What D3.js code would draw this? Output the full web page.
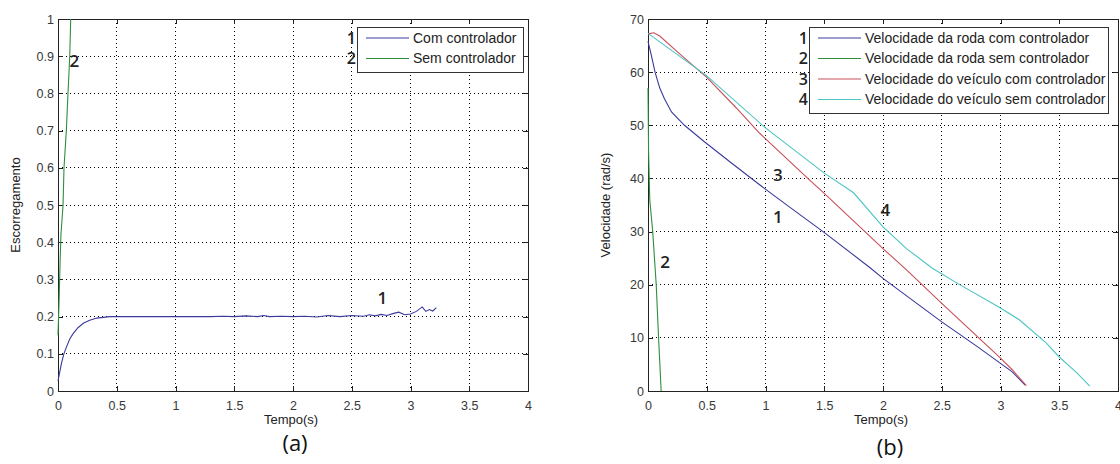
<!DOCTYPE html>
<meta charset="utf-8">
<style>
body { margin: 0; background: #fff; }
svg { font-family: "Liberation Sans", Arial, sans-serif; }
.axis path, .axis line { fill: none; stroke: #222; shape-rendering: crispEdges; }
.axis text { fill: #383838; font-size: 12.5px; }
.grid line { stroke: #000; stroke-dasharray: 1,3; shape-rendering: crispEdges; }
.num { font-family: "Open Sans", "DejaVu Sans", sans-serif; font-weight: 600; font-size: 17px; fill: #222; }
.leg .num { font-size: 16px; }
.leg text { font-size: 14px; fill: #222; }
.cap { font-family: "Open Sans", "DejaVu Sans", sans-serif; font-size: 22px; fill: #111; }
</style>
<body>
<script src="https://cdn.jsdelivr.net/npm/d3@7/dist/d3.min.js"></script>
<script>

// tick values
var xTicks = [0, 0.5, 1, 1.5, 2, 2.5, 3, 3.5, 4];
var yTicksA = [0, 0.1, 0.2, 0.3, 0.4, 0.5, 0.6, 0.7, 0.8, 0.9, 1];
var yTicksB = [0, 10, 20, 30, 40, 50, 60, 70];

// (a) escorregamento
var slipCom = [[0,0.027],[0.03,0.075],[0.05,0.1],[0.074,0.12],[0.1,0.14],[0.13,0.155],[0.17,0.17],[0.215,0.182],[0.27,0.19],[0.33,0.196],[0.44,0.2],
  [0.6,0.2],[1.0,0.2],[1.3,0.2],[1.4,0.201],[1.5,0.2],[1.6,0.202],[1.7,0.2],[1.75,0.203],[1.8,0.2],[1.9,0.201],[2.0,0.2],[2.1,0.201],
  [2.2,0.199],[2.3,0.203],[2.4,0.2],[2.5,0.203],[2.6,0.201],[2.65,0.205],[2.7,0.202],[2.75,0.206],[2.8,0.203],[2.85,0.208],[2.9,0.212],
  [2.95,0.205],[3.0,0.207],[3.05,0.214],[3.1,0.226],[3.13,0.214],[3.16,0.219],[3.19,0.215],[3.22,0.224]];
var slipSem = [[0,0.15],[0.01,0.25],[0.018,0.35],[0.025,0.42],[0.043,0.5],[0.051,0.6],[0.071,0.7],[0.085,0.8],[0.1,0.9],[0.108,1.0]];

// (b) velocidades
var rodaCom = [[0,65.8],[0.03,63],[0.06,60],[0.1,57],[0.14,55],[0.2,52.5],[0.31,50],[0.48,46.9],[0.71,42.9],[0.95,38.8],[1.2,34.7],
  [1.49,30.0],[1.89,23.2],[2.0,21.2],[2.5,13.0],[2.8,8.4],[3.0,5.2],[3.1,3.6],[3.21,1.1]];
var rodaSem = [[0,57],[0.005,45],[0.015,36],[0.04,30],[0.07,20],[0.09,10],[0.112,0]];
var veicCom = [[0,67.2],[0.05,67.4],[0.1,66.8],[0.25,63.8],[0.5,59.0],[0.75,53.3],[0.95,48.5],[1.36,40],[1.5,37.2],[2.0,26.8],
  [2.2,22.8],[2.5,16.5],[3.0,6.2],[3.1,4.0],[3.22,1.0]];
var veicSem = [[0,67.3],[0.25,63.3],[0.5,59.3],[1.0,49.5],[1.5,41],[1.75,37.3],[2.0,30.9],[2.2,26.8],[2.42,23.1],[2.63,20.3],
  [3.0,15.6],[3.16,13.4],[3.39,9.0],[3.5,6.4],[3.65,3.4],[3.76,0.9]];

var legendA = ["Com controlador", "Sem controlador"];
var legendB = ["Velocidade da roda com controlador", "Velocidade da roda sem controlador",
  "Velocidade do veículo com controlador", "Velocidade do veículo sem controlador"];
var labelsA = [["2",0.14,0.887],["1",2.76,0.249]];
var labelsB = [["1",1.105,32.7],["2",0.145,24.3],["3",1.105,40.6],["4",2.02,34]];

var blue = "#3a3a9c", green = "#2f8f3f", red = "#c8505a", cyan = "#4cc4c4";

var svg = d3.select("body").append("svg").attr("width", 1120).attr("height", 464);

function panel(left, yTicks, yMax, yLabel, caption, series, colors, labels, legend, leg) {
  var x = d3.scaleLinear().domain([0, 4]).range([left, left + 470]);
  var y = d3.scaleLinear().domain([0, yMax]).range([391, 19]);
  var g = svg.append("g");

  // grid
  g.append("g").attr("class", "grid").selectAll("line").data(xTicks.slice(1, -1)).enter().append("line")
    .attr("x1", d => x(d)).attr("x2", d => x(d)).attr("y1", 19).attr("y2", 391);
  g.append("g").attr("class", "grid").selectAll("line").data(yTicks.slice(1, -1)).enter().append("line")
    .attr("y1", d => y(d)).attr("y2", d => y(d)).attr("x1", left).attr("x2", left + 470);

  // axes, ticks pointing inward on all sides
  g.append("g").attr("class", "axis").attr("transform", "translate(0,391)")
    .call(d3.axisBottom(x).tickValues(xTicks).tickSizeInner(-5).tickSizeOuter(0).tickPadding(10).tickFormat(d3.format("")));
  g.append("g").attr("class", "axis").attr("transform", "translate(0,19)")
    .call(d3.axisTop(x).tickValues(xTicks).tickSizeInner(-5).tickSizeOuter(0).tickFormat(""));
  g.append("g").attr("class", "axis").attr("transform", "translate(" + left + ",0)")
    .call(d3.axisLeft(y).tickValues(yTicks).tickSizeInner(-5).tickSizeOuter(0).tickPadding(4).tickFormat(d3.format("")));
  g.append("g").attr("class", "axis").attr("transform", "translate(" + (left + 470) + ",0)")
    .call(d3.axisRight(y).tickValues(yTicks).tickSizeInner(-5).tickSizeOuter(0).tickFormat(""));
  g.append("rect").attr("x", left).attr("y", 19).attr("width", 470).attr("height", 372)
    .attr("fill", "none").attr("stroke", "#222").attr("shape-rendering", "crispEdges");

  // lines
  var line = d3.line().x(d => x(d[0])).y(d => y(d[1]));
  series.forEach(function(s, i) {
    g.append("path").datum(s).attr("d", line).attr("fill", "none")
      .attr("stroke", colors[i]).attr("stroke-width", 1.1);
  });

  labels.forEach(function(l) {
    g.append("text").attr("class", "num").attr("x", x(l[1])).attr("y", y(l[2]))
      .attr("text-anchor", "middle").attr("dy", "0.35em").text(l[0]);
  });

  // axis titles and caption
  g.append("text").attr("transform", "translate(" + (left - 38) + ",205) rotate(-90)")
    .attr("text-anchor", "middle").attr("font-size", 13).attr("fill", "#222").text(yLabel);
  g.append("text").attr("x", left + 233).attr("y", 424).attr("text-anchor", "middle")
    .attr("font-size", 13).attr("fill", "#222").text("Tempo(s)");
  g.append("text").attr("class", "cap").attr("x", left + caption[0]).attr("y", caption[1])
    .attr("text-anchor", "middle").text(caption[2]);

  // legend
  var lg = g.append("g").attr("class", "leg");
  lg.append("rect").attr("x", leg.x).attr("y", 27).attr("width", leg.w).attr("height", legend.length * 20.5 + 4)
    .attr("fill", "#fff").attr("stroke", "#333").attr("shape-rendering", "crispEdges");
  legend.forEach(function(t, i) {
    var yy = 38 + i * 20.5;
    lg.append("text").attr("class", "num").attr("x", leg.x - 1).attr("y", yy).attr("dy", "0.35em")
      .attr("text-anchor", "end").text(i + 1);
    lg.append("line").attr("x1", leg.x + 9).attr("x2", leg.x + 52).attr("y1", yy).attr("y2", yy)
      .attr("stroke", colors[i]).attr("stroke-width", 1.1);
    lg.append("text").attr("x", leg.x + 56).attr("y", yy).attr("dy", "0.35em").text(t);
  });
}

panel(58, yTicksA, 1, "Escorregamento", [237, 451, "(a)"],
  [slipCom, slipSem], [blue, green], labelsA, legendA, {x: 357, w: 166});
panel(648, yTicksB, 70, "Velocidade (rad/s)", [242, 455, "(b)"],
  [rodaCom, rodaSem, veicCom, veicSem], [blue, green, red, cyan], labelsB, legendB, {x: 809, w: 299});

</script>
